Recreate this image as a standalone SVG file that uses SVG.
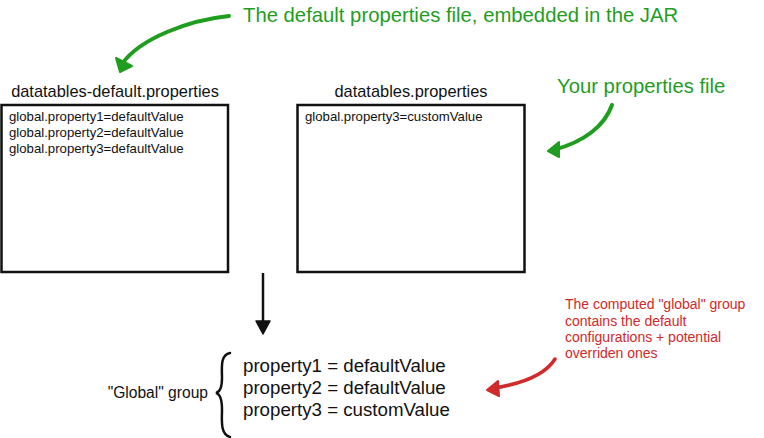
<svg xmlns="http://www.w3.org/2000/svg" width="764" height="438" viewBox="0 0 764 438">
<defs>
<style>
text{font-family:"Liberation Sans","DejaVu Sans",sans-serif;}
.title{font-size:16.4px;fill:#111;}
.prop{font-size:13.2px;fill:#111;}
.big{font-size:18.7px;fill:#111;}
.green{font-size:20.3px;fill:#1f9d1f;}
.red{font-size:14px;fill:#d02a2a;}
.box{fill:#fff;stroke:#111;stroke-width:2.5;}
.garrow{fill:none;stroke:#1f9d1f;stroke-width:4;stroke-linecap:round;}
.rarrow{fill:none;stroke:#d02a2a;stroke-width:3.5;stroke-linecap:round;}
</style>
</defs>
<rect width="764" height="438" fill="#fff"/>
<g id="connectors">
<path class="garrow" d="M229,16 C190,20 140,38 122,64"/>
<path d="M116,58 L120,72 L132,66 Z" fill="#1f9d1f" stroke="#1f9d1f" stroke-width="2" stroke-linejoin="round"/>
<path class="garrow" d="M612,105 C605,125 585,142 553,150"/>
<path d="M559,142 L548,151 L559,157 Z" fill="#1f9d1f" stroke="#1f9d1f" stroke-width="2" stroke-linejoin="round"/>
<path d="M263,273 L263,330" stroke="#111" stroke-width="2.5" fill="none"/>
<path d="M256,321 L263,334 L270,321 Z" fill="#111" stroke="#111" stroke-width="1.5" stroke-linejoin="round"/>
<path class="rarrow" d="M555,359 C545,375 520,384 494,388"/>
<path d="M498,381 L487,390 L499,396 Z" fill="#d02a2a" stroke="#d02a2a" stroke-width="2" stroke-linejoin="round"/>
</g>
<g id="note-jar">
<text class="green" x="243" y="22">The default properties file, embedded in the JAR</text>
</g>
<g id="note-yours">
<text class="green" x="557" y="93">Your properties file</text>
</g>
<g id="default-file">
<text class="title" x="115" y="97" text-anchor="middle">datatables-default.properties</text>
<rect class="box" x="1.5" y="105" width="226.5" height="167"/>
<text class="prop" x="9" y="121">global.property1=defaultValue</text>
<text class="prop" x="9" y="137">global.property2=defaultValue</text>
<text class="prop" x="9" y="153">global.property3=defaultValue</text>
</g>
<g id="custom-file">
<text class="title" x="411" y="97" text-anchor="middle">datatables.properties</text>
<rect class="box" x="297.5" y="105" width="227" height="167"/>
<text class="prop" x="305" y="121">global.property3=customValue</text>
</g>
<g id="global-group">
<text x="208" y="398" text-anchor="end" style="font-size:15.6px;fill:#111">"Global" group</text>
<path d="M230,353 C220,355 222,368 222,378 C222,388 220,392 216,393 C220,394 222,400 222,410 C222,420 220,434 230,437" fill="none" stroke="#111" stroke-width="2.5" stroke-linecap="round"/>
<text class="big" x="243" y="372">property1 = defaultValue</text>
<text class="big" x="243" y="394">property2 = defaultValue</text>
<text class="big" x="243" y="416">property3 = customValue</text>
</g>
<g id="note-computed">
<text class="red" x="565" y="309">The computed "global" group</text>
<text class="red" x="565" y="326">contains the default</text>
<text class="red" x="565" y="342">configurations + potential</text>
<text class="red" x="565" y="358">overriden ones</text>
</g>
</svg>
